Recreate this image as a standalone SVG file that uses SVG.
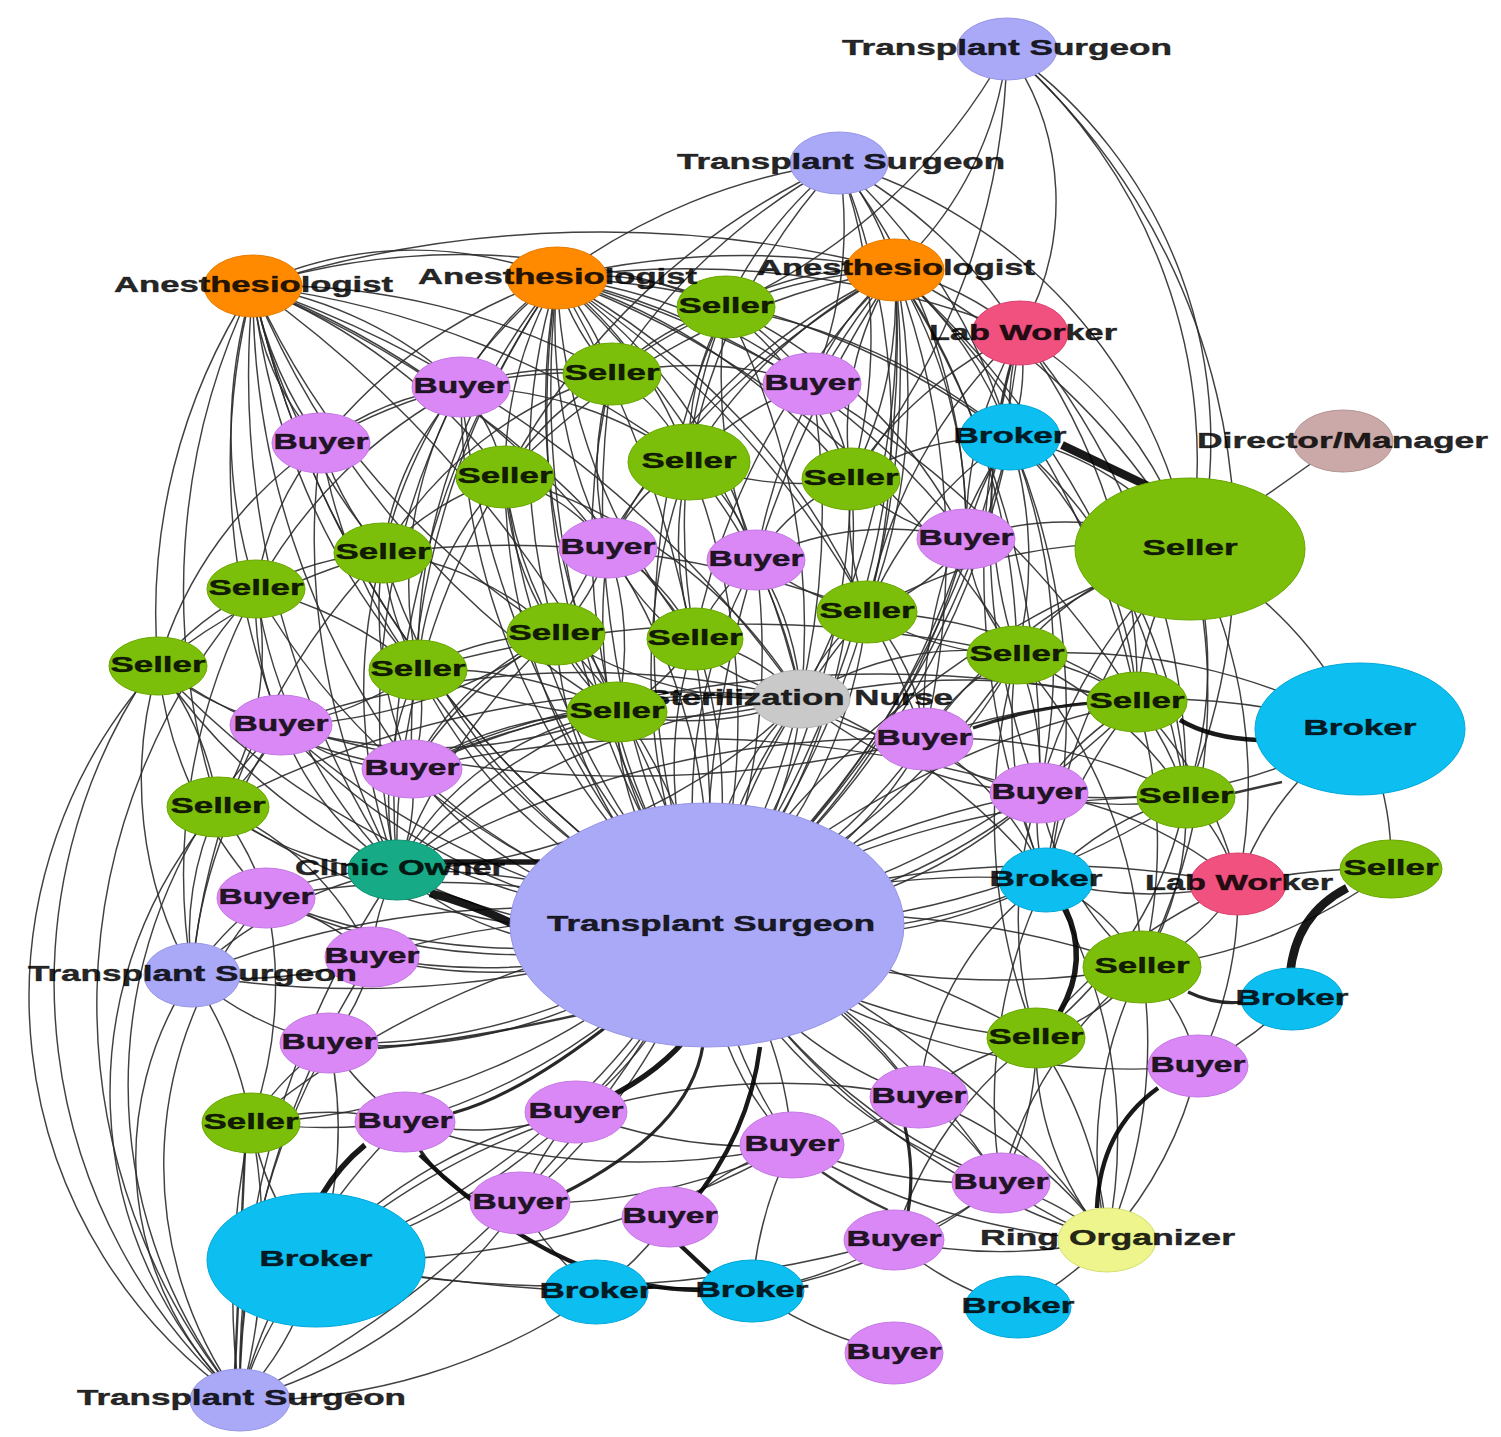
<svg xmlns="http://www.w3.org/2000/svg" width="1501" height="1437" viewBox="0 0 1501 1437">
<style>
.bg{fill:#fff}
#edges path{fill:none;stroke:#2b2b2b;stroke-width:1.45;stroke-opacity:.9}
#edges .w2{stroke:#222;stroke-width:2.4}
#edges .w3{stroke:#111;stroke-width:3.2}
#edges .w4{stroke:#000;stroke-width:4.4}
#edges .w5{stroke:#000;stroke-width:5.5}
#edges .w8{stroke:#000;stroke-width:8.5}
ellipse{stroke-width:1}
.ts{fill:#aaa9f7;stroke:#9896e6}
.an{fill:#ff8a00;stroke:#e87d00}
.se{fill:#7cbf0a;stroke:#69a800}
.bu{fill:#da88f6;stroke:#c579e4}
.br{fill:#0dbff0;stroke:#00a8da}
.lw{fill:#f1517f;stroke:#db426f}
.dm{fill:#caa9a8;stroke:#b59594}
.sn{fill:#c9c9c9;stroke:#b3b3b3}
.co{fill:#16aa86;stroke:#0d9473}
.ro{fill:#eef58c;stroke:#d6de6e}
text{font-family:"Liberation Sans",Arial,sans-serif;font-weight:700;font-size:22px;fill:#000;fill-opacity:.86;stroke:#000;stroke-opacity:.6;stroke-width:.6}
</style>
<rect class="bg" x="0" y="0" width="1501" height="1437"/>
<g id="edges">
<path d="M1007 49A540 540 0 0 1 1190 549"/>
<path d="M1007 49A480 480 0 0 1 1196 560"/>
<path d="M1007 49A660 660 0 0 1 1186 797"/>
<path d="M1007 49A260 260 0 0 1 1020 333"/>
<path d="M1007 49A350 350 0 0 1 895 270"/>
<path d="M1007 49A600 600 0 0 1 726 307"/>
<path d="M1007 49A700 700 0 0 1 851 479"/>
<path d="M839 163A400 400 0 0 0 726 307"/>
<path d="M839 163A600 600 0 0 0 557 278"/>
<path d="M839 163A600 600 0 0 0 612 374"/>
<path d="M839 163A600 600 0 0 0 689 462"/>
<path d="M839 163A400 400 0 0 1 812 384"/>
<path d="M839 163A500 500 0 0 1 851 479"/>
<path d="M839 163A300 300 0 0 1 895 270"/>
<path d="M839 163A500 500 0 0 1 1020 333"/>
<path d="M839 163A600 600 0 0 1 1010 437"/>
<path d="M839 163A500 500 0 0 1 1190 549"/>
<path d="M839 163A600 600 0 0 1 966 539"/>
<path d="M839 163A700 700 0 0 1 867 612"/>
<path d="M839 163A700 700 0 0 0 505 477"/>
<path d="M253 286A380 380 0 0 1 557 278"/>
<path d="M253 286A700 700 0 0 1 726 307"/>
<path d="M253 286A1150 1150 0 0 1 895 270"/>
<path d="M253 286A250 250 0 0 0 321 443"/>
<path d="M253 286A400 400 0 0 0 321 443"/>
<path d="M253 286A400 400 0 0 1 461 387"/>
<path d="M253 286A600 600 0 0 0 383 553"/>
<path d="M253 286A500 500 0 0 0 256 589"/>
<path d="M253 286A600 600 0 0 0 158 666"/>
<path d="M253 286A700 700 0 0 0 281 725"/>
<path d="M253 286A700 700 0 0 0 418 670"/>
<path d="M253 286A600 600 0 0 1 505 477"/>
<path d="M253 286A700 700 0 0 1 612 374"/>
<path d="M253 286A800 800 0 0 0 412 769"/>
<path d="M253 286A900 900 0 0 0 397 870"/>
<path d="M253 286A1000 1000 0 0 0 707 925"/>
<path d="M253 286A900 900 0 0 0 617 712"/>
<path d="M253 286A800 800 0 0 0 556 634"/>
<path d="M253 286A800 800 0 0 1 608 548"/>
<path d="M253 286A900 900 0 0 1 689 462"/>
<path d="M253 286A1000 1000 0 0 1 695 639"/>
<path d="M253 286A1100 1100 0 0 1 801 699"/>
<path d="M253 286A700 700 0 0 0 218 807"/>
<path d="M557 278A300 300 0 0 0 461 387"/>
<path d="M557 278A300 300 0 0 1 612 374"/>
<path d="M557 278A250 250 0 0 0 612 374"/>
<path d="M557 278A400 400 0 0 0 505 477"/>
<path d="M557 278A400 400 0 0 1 689 462"/>
<path d="M557 278A600 600 0 0 1 851 479"/>
<path d="M557 278A500 500 0 0 1 812 384"/>
<path d="M557 278A700 700 0 0 1 966 539"/>
<path d="M557 278A500 500 0 0 0 383 553"/>
<path d="M557 278A500 500 0 0 0 608 548"/>
<path d="M557 278A500 500 0 0 1 756 560"/>
<path d="M557 278A600 600 0 0 0 556 634"/>
<path d="M557 278A600 600 0 0 0 695 639"/>
<path d="M557 278A700 700 0 0 1 867 612"/>
<path d="M557 278A600 600 0 0 0 418 670"/>
<path d="M557 278A700 700 0 0 0 617 712"/>
<path d="M557 278A800 800 0 0 1 801 699"/>
<path d="M557 278A1000 1000 0 0 0 707 925"/>
<path d="M557 278A900 900 0 0 0 397 870"/>
<path d="M557 278A800 800 0 0 0 412 769"/>
<path d="M557 278A900 900 0 0 1 1017 655"/>
<path d="M557 278A900 900 0 0 1 924 739"/>
<path d="M557 278A1000 1000 0 0 1 1137 702"/>
<path d="M557 278A800 800 0 0 1 1010 437"/>
<path d="M557 278A900 900 0 0 1 1020 333"/>
<path d="M557 278A300 300 0 0 1 726 307"/>
<path d="M557 278A800 800 0 0 1 895 270"/>
<path d="M557 278A500 500 0 0 0 321 443"/>
<path d="M895 270A300 300 0 0 0 812 384"/>
<path d="M895 270A400 400 0 0 1 851 479"/>
<path d="M895 270A300 300 0 0 0 851 479"/>
<path d="M895 270A500 500 0 0 0 689 462"/>
<path d="M895 270A500 500 0 0 1 966 539"/>
<path d="M895 270A400 400 0 0 1 1010 437"/>
<path d="M895 270A300 300 0 0 1 1020 333"/>
<path d="M895 270A700 700 0 0 1 1190 549"/>
<path d="M895 270A600 600 0 0 1 867 612"/>
<path d="M895 270A700 700 0 0 1 1017 655"/>
<path d="M895 270A600 600 0 0 0 756 560"/>
<path d="M895 270A800 800 0 0 1 801 699"/>
<path d="M895 270A1000 1000 0 0 1 707 925"/>
<path d="M895 270A800 800 0 0 1 1137 702"/>
<path d="M895 270A800 800 0 0 1 924 739"/>
<path d="M895 270A700 700 0 0 0 695 639"/>
<path d="M895 270A900 900 0 0 1 1039 793"/>
<path d="M895 270A900 900 0 0 1 1186 797"/>
<path d="M895 270A300 300 0 0 0 726 307"/>
<path d="M895 270A500 500 0 0 0 612 374"/>
<path d="M895 270A600 600 0 0 0 608 548"/>
<path d="M895 270A800 800 0 0 0 556 634"/>
<path d="M895 270A700 700 0 0 0 505 477"/>
<path d="M726 307A300 300 0 0 1 812 384"/>
<path d="M726 307A300 300 0 0 0 689 462"/>
<path d="M726 307A300 300 0 0 0 612 374"/>
<path d="M726 307A400 400 0 0 1 851 479"/>
<path d="M726 307A500 500 0 0 1 966 539"/>
<path d="M726 307A700 700 0 0 1 801 699"/>
<path d="M726 307A600 600 0 0 0 695 639"/>
<path d="M726 307A600 600 0 0 1 1010 437"/>
<path d="M726 307A500 500 0 0 0 756 560"/>
<path d="M1020 333A300 300 0 0 0 1010 437"/>
<path d="M1020 333A200 200 0 0 1 1010 437"/>
<path d="M1020 333A400 400 0 0 1 1190 549"/>
<path d="M1020 333A600 600 0 0 1 1137 702"/>
<path d="M1020 333A500 500 0 0 0 1017 655"/>
<path d="M1020 333A400 400 0 0 0 966 539"/>
<path d="M1020 333A700 700 0 0 1 1186 797"/>
<path d="M1020 333A500 500 0 0 0 867 612"/>
<path d="M1020 333A700 700 0 0 0 1039 793"/>
<path d="M1020 333A800 800 0 0 0 1046 880"/>
<path d="M1020 333A400 400 0 0 0 851 479"/>
<path d="M1010 437A400 400 0 0 1 1017 655"/>
<path d="M1010 437A400 400 0 0 1 1137 702"/>
<path d="M1010 437A300 300 0 0 0 966 539"/>
<path d="M1010 437A300 300 0 0 0 851 479"/>
<path d="M1010 437A400 400 0 0 0 867 612"/>
<path d="M1010 437A500 500 0 0 0 924 739"/>
<path d="M1010 437A700 700 0 0 1 1046 880"/>
<path d="M1010 437A500 500 0 0 1 1186 797"/>
<path d="M1010 437A600 600 0 0 1 1039 793"/>
<path d="M1010 437A300 300 0 0 1 1190 549"/>
<path d="M1190 549L1343 441"/>
<path d="M1190 549A400 400 0 0 1 1360 729"/>
<path d="M1190 549A300 300 0 0 0 1137 702"/>
<path d="M1190 549A300 300 0 0 0 1017 655"/>
<path d="M1190 549A400 400 0 0 1 1186 797"/>
<path d="M1190 549A500 500 0 0 0 1039 793"/>
<path d="M1190 549A500 500 0 0 1 1238 884"/>
<path d="M1190 549A600 600 0 0 1 1142 967"/>
<path d="M1190 549A300 300 0 0 0 966 539"/>
<path d="M1190 549A500 500 0 0 0 867 612"/>
<path d="M1190 549A600 600 0 0 0 1046 880"/>
<path d="M1190 549A500 500 0 0 0 924 739"/>
<path d="M1190 549A900 900 0 0 0 707 925"/>
<path d="M1360 729A300 300 0 0 1 1391 869"/>
<path d="M1360 729A600 600 0 0 0 1017 655"/>
<path d="M1360 729A500 500 0 0 1 1039 793"/>
<path d="M1360 729A700 700 0 0 0 924 739"/>
<path d="M1360 729A300 300 0 0 0 1238 884"/>
<path d="M1137 702A300 300 0 0 0 1017 655"/>
<path d="M1137 702A300 300 0 0 1 1186 797"/>
<path d="M1137 702A300 300 0 0 0 1039 793"/>
<path d="M1137 702A400 400 0 0 0 1046 880"/>
<path d="M1137 702A700 700 0 0 0 801 699"/>
<path d="M1137 702A500 500 0 0 0 867 612"/>
<path d="M1137 702A500 500 0 0 1 1142 967"/>
<path d="M1137 702A900 900 0 0 0 707 925"/>
<path d="M1137 702A400 400 0 0 1 1238 884"/>
<path d="M1186 797A300 300 0 0 1 1039 793"/>
<path d="M1186 797A200 200 0 0 1 1238 884"/>
<path d="M1186 797A300 300 0 0 0 1046 880"/>
<path d="M1186 797A300 300 0 0 1 1142 967"/>
<path d="M1186 797A400 400 0 0 0 1017 655"/>
<path d="M1186 797A500 500 0 0 0 924 739"/>
<path d="M1186 797A900 900 0 0 0 707 925"/>
<path d="M1186 797A400 400 0 0 1 1036 1038"/>
<path d="M1391 869A600 600 0 0 0 1238 884"/>
<path d="M1391 869A500 500 0 0 1 1142 967"/>
<path d="M1238 884A400 400 0 0 0 1039 793"/>
<path d="M1238 884A200 200 0 0 1 1142 967"/>
<path d="M1238 884A400 400 0 0 1 1046 880"/>
<path d="M1238 884A400 400 0 0 1 1198 1066"/>
<path d="M1238 884A500 500 0 0 0 1036 1038"/>
<path d="M1238 884A1000 1000 0 0 0 707 925"/>
<path d="M1142 967A200 200 0 0 0 1046 880"/>
<path d="M1142 967A200 200 0 0 1 1036 1038"/>
<path d="M1142 967A200 200 0 0 1 1198 1066"/>
<path d="M1142 967A400 400 0 0 0 1107 1240"/>
<path d="M1142 967A500 500 0 0 1 1107 1240"/>
<path d="M1142 967A300 300 0 0 1 1039 793"/>
<path d="M1142 967A900 900 0 0 0 707 925"/>
<path d="M1142 967A400 400 0 0 0 1001 1183"/>
<path d="M1142 967A500 500 0 0 0 1017 655"/>
<path d="M1046 880A800 800 0 0 0 707 925"/>
<path d="M1046 880A200 200 0 0 1 1039 793"/>
<path d="M1046 880A300 300 0 0 0 924 739"/>
<path d="M1046 880A400 400 0 0 1 1017 655"/>
<path d="M1046 880A500 500 0 0 1 1107 1240"/>
<path d="M1046 880A500 500 0 0 0 1001 1183"/>
<path d="M1046 880A300 300 0 0 0 919 1097"/>
<path d="M1046 880A600 600 0 0 0 801 699"/>
<path d="M1036 1038A900 900 0 0 0 707 925"/>
<path d="M1036 1038A300 300 0 0 0 1107 1240"/>
<path d="M1036 1038A400 400 0 0 1 1107 1240"/>
<path d="M1036 1038A300 300 0 0 1 1001 1183"/>
<path d="M1036 1038A300 300 0 0 0 919 1097"/>
<path d="M1036 1038A400 400 0 0 1 1039 793"/>
<path d="M1036 1038A600 600 0 0 1 1017 655"/>
<path d="M1036 1038A400 400 0 0 0 894 1240"/>
<path d="M1198 1066A300 300 0 0 0 1292 999"/>
<path d="M1198 1066A400 400 0 0 1 1107 1240"/>
<path d="M1107 1240A300 300 0 0 0 1001 1183"/>
<path d="M1107 1240A400 400 0 0 1 1001 1183"/>
<path d="M1107 1240A500 500 0 0 1 894 1240"/>
<path d="M1107 1240A300 300 0 0 1 1018 1307"/>
<path d="M1107 1240A700 700 0 0 1 792 1145"/>
<path d="M1107 1240A400 400 0 0 0 919 1097"/>
<path d="M1107 1240A900 900 0 0 0 707 925"/>
<path d="M1001 1183A300 300 0 0 0 919 1097"/>
<path d="M1001 1183A300 300 0 0 1 894 1240"/>
<path d="M1001 1183A700 700 0 0 0 707 925"/>
<path d="M1001 1183A500 500 0 0 1 792 1145"/>
<path d="M1001 1183A500 500 0 0 1 752 1291"/>
<path d="M919 1097A500 500 0 0 0 707 925"/>
<path d="M919 1097A400 400 0 0 1 707 925"/>
<path d="M919 1097A300 300 0 0 1 792 1145"/>
<path d="M792 1145A400 400 0 0 0 707 925"/>
<path d="M792 1145A700 700 0 0 1 405 1122"/>
<path d="M792 1145A500 500 0 0 1 576 1112"/>
<path d="M792 1145A600 600 0 0 1 520 1203"/>
<path d="M792 1145A400 400 0 0 0 752 1291"/>
<path d="M792 1145A900 900 0 0 1 316 1260"/>
<path d="M792 1145A300 300 0 0 0 670 1217"/>
<path d="M894 1240A400 400 0 0 1 752 1291"/>
<path d="M894 1240A300 300 0 0 0 1018 1307"/>
<path d="M752 1291A400 400 0 0 0 894 1353"/>
<path d="M752 1291A800 800 0 0 0 596 1292"/>
<path d="M596 1292A300 300 0 0 0 670 1217"/>
<path d="M596 1292A2000 2000 0 0 1 316 1260"/>
<path d="M596 1292A300 300 0 0 1 520 1203"/>
<path d="M316 1260A1200 1200 0 0 0 894 1240"/>
<path d="M316 1260A500 500 0 0 1 576 1112"/>
<path d="M316 1260A300 300 0 0 1 251 1123"/>
<path d="M316 1260A400 400 0 0 0 329 1043"/>
<path d="M316 1260A700 700 0 0 1 919 1097"/>
<path d="M576 1112A300 300 0 0 1 405 1122"/>
<path d="M576 1112A300 300 0 0 0 520 1203"/>
<path d="M405 1122A300 300 0 0 0 251 1123"/>
<path d="M405 1122A600 600 0 0 1 251 1123"/>
<path d="M405 1122A300 300 0 0 1 329 1043"/>
<path d="M251 1123A300 300 0 0 1 329 1043"/>
<path d="M251 1123A900 900 0 0 1 707 925"/>
<path d="M251 1123A400 400 0 0 0 192 975"/>
<path d="M251 1123A400 400 0 0 0 266 898"/>
<path d="M329 1043A200 200 0 0 0 372 957"/>
<path d="M372 957A800 800 0 0 1 707 925"/>
<path d="M372 957A200 200 0 0 1 397 870"/>
<path d="M372 957A300 300 0 0 0 218 807"/>
<path d="M266 898A300 300 0 0 1 397 870"/>
<path d="M266 898A300 300 0 0 0 218 807"/>
<path d="M266 898A900 900 0 0 1 707 925"/>
<path d="M266 898A400 400 0 0 1 158 666"/>
<path d="M266 898A300 300 0 0 1 372 957"/>
<path d="M158 666A300 300 0 0 1 256 589"/>
<path d="M158 666A600 600 0 0 1 383 553"/>
<path d="M158 666A400 400 0 0 1 321 443"/>
<path d="M158 666A300 300 0 0 0 281 725"/>
<path d="M158 666A300 300 0 0 1 218 807"/>
<path d="M158 666A600 600 0 0 0 397 870"/>
<path d="M158 666A600 600 0 0 0 412 769"/>
<path d="M256 589A300 300 0 0 1 383 553"/>
<path d="M256 589A300 300 0 0 1 321 443"/>
<path d="M256 589A300 300 0 0 0 281 725"/>
<path d="M256 589A400 400 0 0 1 418 670"/>
<path d="M256 589A500 500 0 0 1 461 387"/>
<path d="M256 589A500 500 0 0 0 397 870"/>
<path d="M256 589A300 300 0 0 1 218 807"/>
<path d="M321 443A300 300 0 0 1 461 387"/>
<path d="M321 443A300 300 0 0 0 383 553"/>
<path d="M321 443A500 500 0 0 1 612 374"/>
<path d="M321 443A500 500 0 0 0 418 670"/>
<path d="M321 443A700 700 0 0 0 397 870"/>
<path d="M461 387A300 300 0 0 1 612 374"/>
<path d="M461 387A300 300 0 0 0 383 553"/>
<path d="M461 387A200 200 0 0 1 505 477"/>
<path d="M461 387A400 400 0 0 1 689 462"/>
<path d="M461 387A700 700 0 0 0 397 870"/>
<path d="M461 387A400 400 0 0 0 418 670"/>
<path d="M383 553A300 300 0 0 1 505 477"/>
<path d="M383 553A300 300 0 0 0 418 670"/>
<path d="M383 553A400 400 0 0 0 412 769"/>
<path d="M383 553A500 500 0 0 0 397 870"/>
<path d="M383 553A300 300 0 0 1 556 634"/>
<path d="M383 553A400 400 0 0 1 612 374"/>
<path d="M418 670A300 300 0 0 1 281 725"/>
<path d="M418 670A200 200 0 0 1 412 769"/>
<path d="M418 670A300 300 0 0 0 397 870"/>
<path d="M418 670A300 300 0 0 1 556 634"/>
<path d="M418 670A300 300 0 0 1 505 477"/>
<path d="M418 670A400 400 0 0 1 617 712"/>
<path d="M281 725A300 300 0 0 1 218 807"/>
<path d="M281 725A300 300 0 0 0 397 870"/>
<path d="M281 725A200 200 0 0 0 412 769"/>
<path d="M281 725A900 900 0 0 1 801 699"/>
<path d="M412 769A200 200 0 0 1 397 870"/>
<path d="M412 769A400 400 0 0 1 617 712"/>
<path d="M412 769A700 700 0 0 1 801 699"/>
<path d="M412 769A300 300 0 0 1 556 634"/>
<path d="M397 870A700 700 0 0 1 505 477"/>
<path d="M397 870A600 600 0 0 1 556 634"/>
<path d="M397 870A500 500 0 0 1 617 712"/>
<path d="M397 870A700 700 0 0 1 801 699"/>
<path d="M397 870A300 300 0 0 1 218 807"/>
<path d="M801 699A500 500 0 0 0 689 462"/>
<path d="M801 699A200 200 0 0 0 695 639"/>
<path d="M801 699A400 400 0 0 1 556 634"/>
<path d="M801 699A300 300 0 0 1 617 712"/>
<path d="M801 699A300 300 0 0 0 756 560"/>
<path d="M801 699A200 200 0 0 1 867 612"/>
<path d="M801 699A200 200 0 0 0 924 739"/>
<path d="M801 699A300 300 0 0 1 1017 655"/>
<path d="M801 699A400 400 0 0 0 1039 793"/>
<path d="M801 699A600 600 0 0 1 418 670"/>
<path d="M801 699A500 500 0 0 0 505 477"/>
<path d="M801 699A300 300 0 0 1 608 548"/>
<path d="M617 712A200 200 0 0 1 556 634"/>
<path d="M617 712A200 200 0 0 0 695 639"/>
<path d="M617 712A400 400 0 0 1 505 477"/>
<path d="M617 712A300 300 0 0 0 608 548"/>
<path d="M556 634A300 300 0 0 1 505 477"/>
<path d="M556 634A200 200 0 0 0 608 548"/>
<path d="M695 639A300 300 0 0 1 689 462"/>
<path d="M695 639A200 200 0 0 0 608 548"/>
<path d="M695 639A200 200 0 0 1 756 560"/>
<path d="M608 548A300 300 0 0 1 612 374"/>
<path d="M608 548A200 200 0 0 0 505 477"/>
<path d="M608 548A200 200 0 0 1 689 462"/>
<path d="M756 560A200 200 0 0 0 689 462"/>
<path d="M756 560A200 200 0 0 1 851 479"/>
<path d="M756 560A300 300 0 0 0 867 612"/>
<path d="M756 560A300 300 0 0 1 966 539"/>
<path d="M867 612A300 300 0 0 1 851 479"/>
<path d="M867 612A200 200 0 0 0 966 539"/>
<path d="M867 612A200 200 0 0 1 924 739"/>
<path d="M867 612A300 300 0 0 0 1017 655"/>
<path d="M924 739A200 200 0 0 1 1017 655"/>
<path d="M924 739A200 200 0 0 0 1039 793"/>
<path d="M966 539A200 200 0 0 1 851 479"/>
<path d="M966 539A200 200 0 0 0 1017 655"/>
<path d="M851 479A300 300 0 0 1 689 462"/>
<path d="M851 479A200 200 0 0 0 812 384"/>
<path d="M689 462A200 200 0 0 0 612 374"/>
<path d="M689 462A300 300 0 0 1 812 384"/>
<path d="M505 477A300 300 0 0 1 612 374"/>
<path d="M612 374A400 400 0 0 1 812 384"/>
<path d="M1039 793A300 300 0 0 0 1017 655"/>
<path d="M1039 793A900 900 0 0 0 707 925"/>
<path d="M707 925A1000 1000 0 0 1 253 286"/>
<path d="M707 925A900 900 0 0 1 557 278"/>
<path d="M707 925A900 900 0 0 0 895 270"/>
<path d="M707 925A700 700 0 0 1 461 387"/>
<path d="M707 925A700 700 0 0 1 612 374"/>
<path d="M707 925A600 600 0 0 1 505 477"/>
<path d="M707 925A600 600 0 0 1 689 462"/>
<path d="M707 925A600 600 0 0 0 851 479"/>
<path d="M707 925A500 500 0 0 1 608 548"/>
<path d="M707 925A500 500 0 0 1 756 560"/>
<path d="M707 925A600 600 0 0 1 383 553"/>
<path d="M707 925A400 400 0 0 1 556 634"/>
<path d="M707 925A400 400 0 0 1 695 639"/>
<path d="M707 925A500 500 0 0 0 867 612"/>
<path d="M707 925A600 600 0 0 0 1017 655"/>
<path d="M707 925A500 500 0 0 1 418 670"/>
<path d="M707 925A400 400 0 0 0 801 699"/>
<path d="M707 925A300 300 0 0 1 617 712"/>
<path d="M707 925A600 600 0 0 1 281 725"/>
<path d="M707 925A400 400 0 0 0 924 739"/>
<path d="M707 925A400 400 0 0 1 412 769"/>
<path d="M707 925A500 500 0 0 0 1046 880"/>
<path d="M707 925A600 600 0 0 1 266 898"/>
<path d="M707 925A500 500 0 0 1 372 957"/>
<path d="M707 925A500 500 0 0 1 329 1043"/>
<path d="M707 925A700 700 0 0 0 1198 1066"/>
<path d="M707 925A300 300 0 0 0 792 1145"/>
<path d="M707 925A500 500 0 0 0 1001 1183"/>
<path d="M707 925A600 600 0 0 1 316 1260"/>
<path d="M707 925A700 700 0 0 0 1107 1240"/>
<path d="M707 925A800 800 0 0 1 726 307"/>
<path d="M707 925A800 800 0 0 0 812 384"/>
<path d="M707 925A700 700 0 0 0 966 539"/>
<path d="M707 925A500 500 0 0 0 1039 793"/>
<path d="M707 925A300 300 0 0 1 397 870"/>
<path d="M707 925A800 800 0 0 0 1010 437"/>
<path d="M707 925A900 900 0 0 0 1020 333"/>
<path d="M707 925A700 700 0 0 1 218 807"/>
<path d="M707 925A800 800 0 0 1 158 666"/>
<path d="M707 925A700 700 0 0 1 256 589"/>
<path d="M707 925A700 700 0 0 0 689 462"/>
<path d="M707 925A600 600 0 0 0 608 548"/>
<path d="M707 925A500 500 0 0 0 556 634"/>
<path d="M707 925A500 500 0 0 0 695 639"/>
<path d="M707 925A300 300 0 0 1 801 699"/>
<path d="M707 925A700 700 0 0 1 867 612"/>
<path d="M707 925A700 700 0 0 0 756 560"/>
<path d="M397 870A500 500 0 0 0 707 925"/>
<path d="M397 870A900 900 0 0 1 707 925"/>
<path d="M412 769A600 600 0 0 0 707 925"/>
<path d="M281 725A800 800 0 0 0 707 925"/>
<path d="M418 670A700 700 0 0 0 707 925"/>
<path d="M801 699A500 500 0 0 0 707 925"/>
<path d="M801 699A600 600 0 0 1 397 870"/>
<path d="M801 699A800 800 0 0 0 412 769"/>
<path d="M924 739A600 600 0 0 1 707 925"/>
<path d="M1017 655A800 800 0 0 1 707 925"/>
<path d="M1039 793A600 600 0 0 1 707 925"/>
<path d="M1046 880A600 600 0 0 1 707 925"/>
<path d="M617 712A300 300 0 0 0 397 870"/>
<path d="M617 712A500 500 0 0 1 281 725"/>
<path d="M556 634A400 400 0 0 0 412 769"/>
<path d="M556 634A500 500 0 0 1 281 725"/>
<path d="M418 670A1200 1200 0 0 1 1017 655"/>
<path d="M281 725A1200 1200 0 0 0 924 739"/>
<path d="M412 769A1200 1200 0 0 1 1039 793"/>
<path d="M383 553A1000 1000 0 0 1 867 612"/>
<path d="M397 870A1000 1000 0 0 1 924 739"/>
<path d="M412 769A1200 1200 0 0 1 1137 702"/>
<path d="M218 807A1000 1000 0 0 1 801 699"/>
<path d="M557 278A1100 1100 0 0 1 707 925"/>
<path d="M895 270A1100 1100 0 0 0 707 925"/>
<path d="M253 286A1200 1200 0 0 1 707 925"/>
<path d="M461 387A900 900 0 0 0 707 925"/>
<path d="M612 374A900 900 0 0 0 707 925"/>
<path d="M505 477A800 800 0 0 0 707 925"/>
<path d="M851 479A800 800 0 0 1 707 925"/>
<path d="M966 539A800 800 0 0 1 707 925"/>
<path d="M1010 437A900 900 0 0 1 707 925"/>
<path d="M919 1097A600 600 0 0 0 707 925"/>
<path d="M792 1145A500 500 0 0 1 707 925"/>
<path d="M1001 1183A600 600 0 0 1 707 925"/>
<path d="M1036 1038A700 700 0 0 1 707 925"/>
<path d="M1142 967A800 800 0 0 1 707 925"/>
<path d="M1186 797A800 800 0 0 1 707 925"/>
<path d="M1137 702A800 800 0 0 1 707 925"/>
<path d="M576 1112A400 400 0 0 0 707 925"/>
<path d="M520 1203A600 600 0 0 0 707 925"/>
<path d="M405 1122A600 600 0 0 0 707 925"/>
<path d="M329 1043A600 600 0 0 0 707 925"/>
<path d="M251 1123A700 700 0 0 0 707 925"/>
<path d="M316 1260A700 700 0 0 0 707 925"/>
<path d="M192 975A900 900 0 0 1 707 925"/>
<path d="M372 957A600 600 0 0 0 707 925"/>
<path d="M266 898A700 700 0 0 0 707 925"/>
<path d="M240 1400A490 490 0 0 1 158 666"/>
<path d="M240 1400A560 560 0 0 1 150 670"/>
<path d="M240 1400A430 430 0 0 1 218 807"/>
<path d="M240 1400A330 330 0 0 1 192 975"/>
<path d="M240 1400A400 400 0 0 1 266 898"/>
<path d="M240 1400A620 620 0 0 1 256 589"/>
<path d="M240 1400A500 500 0 0 1 281 725"/>
<path d="M240 1400A800 800 0 0 1 251 1123"/>
<path d="M240 1400A600 600 0 0 0 251 1123"/>
<path d="M240 1400A700 700 0 0 1 329 1043"/>
<path d="M240 1400A800 800 0 0 1 372 957"/>
<path d="M240 1400A400 400 0 0 1 316 1260"/>
<path d="M240 1400A300 300 0 0 0 316 1260"/>
<path d="M240 1400A600 600 0 0 1 405 1122"/>
<path d="M240 1400A500 500 0 0 0 520 1203"/>
<path d="M240 1400A600 600 0 0 0 596 1292"/>
<path d="M240 1400A900 900 0 0 1 397 870"/>
<path d="M240 1400A1000 1000 0 0 0 707 925"/>
<path d="M192 975A400 400 0 0 1 158 666"/>
<path d="M192 975A300 300 0 0 1 218 807"/>
<path d="M192 975A300 300 0 0 1 266 898"/>
<path d="M192 975A400 400 0 0 0 372 957"/>
<path d="M192 975A400 400 0 0 1 397 870"/>
<path d="M192 975A500 500 0 0 1 281 725"/>
<path d="M192 975A1000 1000 0 0 0 707 925"/>
<path d="M192 975A300 300 0 0 0 329 1043"/>
<path d="M192 975A600 600 0 0 1 256 589"/>
<path d="M192 975A700 700 0 0 1 383 553"/>
<path class="w8" d="M1062 445L1150 487"/>
<path class="w8" d="M1347 888Q1295 915 1290 975"/>
<path class="w8" d="M430 893Q470 903 515 925"/>
<path class="w5" d="M440 862L540 862"/>
<path class="w5" d="M365 1145Q340 1165 322 1195"/>
<path class="w5" d="M685 1040Q650 1080 592 1105"/>
<path class="w4" d="M760 1047A300 300 0 0 1 690 1205"/>
<path class="w3" d="M703 1045Q690 1130 560 1195"/>
<path class="w4" d="M420 1155Q560 1290 700 1290"/>
<path class="w4" d="M680 1245L712 1275"/>
<path class="w5" d="M1065 908Q1090 960 1060 1012"/>
<path class="w4" d="M1180 720Q1210 738 1258 740"/>
<path class="w3" d="M973 728Q1030 708 1092 703"/>
<path class="w2" d="M1234 793L1282 782"/>
<path class="w4" d="M1158 1088Q1100 1130 1097 1208"/>
<path class="w3" d="M1188 992Q1215 1005 1242 1002"/>
<path class="w3" d="M905 1127Q915 1170 908 1212"/>
<path class="w2" d="M822 1172Q855 1195 888 1210"/>
<path class="w2" d="M378 1048Q470 1040 600 1010"/>
<path class="w3" d="M453 1113Q520 1095 615 1020"/>
<path class="w3" d="M420 1150Q440 1180 475 1200"/>
<path class="w2" d="M235 1370L245 1150"/>
</g>
<g id="n-ts3"><ellipse class="ts" cx="707" cy="925" rx="197" ry="122"/><text x="547" y="931" textLength="328" lengthAdjust="spacingAndGlyphs">Transplant Surgeon</text></g>
<g id="n-s1"><ellipse class="se" cx="726" cy="307" rx="49" ry="31"/><text x="678.5" y="313" textLength="95" lengthAdjust="spacingAndGlyphs">Seller</text></g>
<g id="n-b1"><ellipse class="bu" cx="461" cy="387" rx="49" ry="30"/><text x="413.5" y="393" textLength="95" lengthAdjust="spacingAndGlyphs">Buyer</text></g>
<g id="n-s2"><ellipse class="se" cx="612" cy="374" rx="49" ry="31"/><text x="564.5" y="380" textLength="95" lengthAdjust="spacingAndGlyphs">Seller</text></g>
<g id="n-b2"><ellipse class="bu" cx="812" cy="384" rx="49" ry="31"/><text x="764.5" y="390" textLength="95" lengthAdjust="spacingAndGlyphs">Buyer</text></g>
<g id="n-b3"><ellipse class="bu" cx="321" cy="443" rx="49" ry="30"/><text x="273.5" y="449" textLength="95" lengthAdjust="spacingAndGlyphs">Buyer</text></g>
<g id="n-br1"><ellipse class="br" cx="1010" cy="437" rx="50" ry="33"/><text x="953.5" y="443" textLength="113" lengthAdjust="spacingAndGlyphs">Broker</text></g>
<g id="n-s3"><ellipse class="se" cx="505" cy="477" rx="49" ry="31"/><text x="457.5" y="483" textLength="95" lengthAdjust="spacingAndGlyphs">Seller</text></g>
<g id="n-s4"><ellipse class="se" cx="689" cy="462" rx="61" ry="38"/><text x="641.5" y="468" textLength="95" lengthAdjust="spacingAndGlyphs">Seller</text></g>
<g id="n-s5"><ellipse class="se" cx="851" cy="479" rx="49" ry="31"/><text x="803.5" y="485" textLength="95" lengthAdjust="spacingAndGlyphs">Seller</text></g>
<g id="n-s6"><ellipse class="se" cx="1190" cy="549" rx="115" ry="71"/><text x="1142.5" y="555" textLength="95" lengthAdjust="spacingAndGlyphs">Seller</text></g>
<g id="n-b4"><ellipse class="bu" cx="966" cy="539" rx="49" ry="30"/><text x="918.5" y="545" textLength="95" lengthAdjust="spacingAndGlyphs">Buyer</text></g>
<g id="n-b5"><ellipse class="bu" cx="608" cy="548" rx="49" ry="30"/><text x="560.5" y="554" textLength="95" lengthAdjust="spacingAndGlyphs">Buyer</text></g>
<g id="n-b6"><ellipse class="bu" cx="756" cy="560" rx="49" ry="30"/><text x="708.5" y="566" textLength="95" lengthAdjust="spacingAndGlyphs">Buyer</text></g>
<g id="n-s7"><ellipse class="se" cx="383" cy="553" rx="49" ry="30"/><text x="335.5" y="559" textLength="95" lengthAdjust="spacingAndGlyphs">Seller</text></g>
<g id="n-s8"><ellipse class="se" cx="256" cy="589" rx="49" ry="29"/><text x="208.5" y="595" textLength="95" lengthAdjust="spacingAndGlyphs">Seller</text></g>
<g id="n-s9"><ellipse class="se" cx="556" cy="634" rx="49" ry="31"/><text x="508.5" y="640" textLength="95" lengthAdjust="spacingAndGlyphs">Seller</text></g>
<g id="n-s10"><ellipse class="se" cx="695" cy="639" rx="48" ry="31"/><text x="647.5" y="645" textLength="95" lengthAdjust="spacingAndGlyphs">Seller</text></g>
<g id="n-s11"><ellipse class="se" cx="867" cy="612" rx="50" ry="31"/><text x="819.5" y="618" textLength="95" lengthAdjust="spacingAndGlyphs">Seller</text></g>
<g id="n-s12"><ellipse class="se" cx="1017" cy="655" rx="50" ry="29"/><text x="969.5" y="661" textLength="95" lengthAdjust="spacingAndGlyphs">Seller</text></g>
<g id="n-s13"><ellipse class="se" cx="158" cy="666" rx="49" ry="29"/><text x="110.5" y="672" textLength="95" lengthAdjust="spacingAndGlyphs">Seller</text></g>
<g id="n-s14"><ellipse class="se" cx="418" cy="670" rx="49" ry="30"/><text x="370.5" y="676" textLength="95" lengthAdjust="spacingAndGlyphs">Seller</text></g>
<g id="n-sn"><ellipse class="sn" cx="801" cy="699" rx="49" ry="29"/><text x="647" y="705" textLength="306" lengthAdjust="spacingAndGlyphs">Sterilization Nurse</text></g>
<g id="n-s15"><ellipse class="se" cx="617" cy="712" rx="50" ry="30"/><text x="569.5" y="718" textLength="95" lengthAdjust="spacingAndGlyphs">Seller</text></g>
<g id="n-b7"><ellipse class="bu" cx="281" cy="725" rx="51" ry="30"/><text x="233.5" y="731" textLength="95" lengthAdjust="spacingAndGlyphs">Buyer</text></g>
<g id="n-b8"><ellipse class="bu" cx="924" cy="739" rx="49" ry="31"/><text x="876.5" y="745" textLength="95" lengthAdjust="spacingAndGlyphs">Buyer</text></g>
<g id="n-s16"><ellipse class="se" cx="1137" cy="702" rx="50" ry="30"/><text x="1089.5" y="708" textLength="95" lengthAdjust="spacingAndGlyphs">Seller</text></g>
<g id="n-br2"><ellipse class="br" cx="1360" cy="729" rx="105" ry="66"/><text x="1303.5" y="735" textLength="113" lengthAdjust="spacingAndGlyphs">Broker</text></g>
<g id="n-b9"><ellipse class="bu" cx="412" cy="769" rx="50" ry="29"/><text x="364.5" y="775" textLength="95" lengthAdjust="spacingAndGlyphs">Buyer</text></g>
<g id="n-b10"><ellipse class="bu" cx="1039" cy="793" rx="49" ry="30"/><text x="991.5" y="799" textLength="95" lengthAdjust="spacingAndGlyphs">Buyer</text></g>
<g id="n-s17"><ellipse class="se" cx="1186" cy="797" rx="49" ry="31"/><text x="1138.5" y="803" textLength="95" lengthAdjust="spacingAndGlyphs">Seller</text></g>
<g id="n-s18"><ellipse class="se" cx="218" cy="807" rx="51" ry="30"/><text x="170.5" y="813" textLength="95" lengthAdjust="spacingAndGlyphs">Seller</text></g>
<g id="n-br3"><ellipse class="br" cx="1046" cy="880" rx="47" ry="32"/><text x="989.5" y="886" textLength="113" lengthAdjust="spacingAndGlyphs">Broker</text></g>
<g id="n-s19"><ellipse class="se" cx="1391" cy="869" rx="51" ry="29"/><text x="1343.5" y="875" textLength="95" lengthAdjust="spacingAndGlyphs">Seller</text></g>
<g id="n-lw2"><ellipse class="lw" cx="1238" cy="884" rx="48" ry="31"/><text x="1145" y="890" textLength="188" lengthAdjust="spacingAndGlyphs">Lab Worker</text></g>
<g id="n-b11"><ellipse class="bu" cx="266" cy="898" rx="49" ry="30"/><text x="218.5" y="904" textLength="95" lengthAdjust="spacingAndGlyphs">Buyer</text></g>
<g id="n-b12"><ellipse class="bu" cx="372" cy="957" rx="47" ry="30"/><text x="324.5" y="963" textLength="95" lengthAdjust="spacingAndGlyphs">Buyer</text></g>
<g id="n-co"><ellipse class="co" cx="397" cy="870" rx="49" ry="30"/><text x="295" y="875" textLength="210" lengthAdjust="spacingAndGlyphs">Clinic Owner</text></g>
<g id="n-ts4"><ellipse class="ts" cx="192" cy="975" rx="48" ry="32"/><text x="28" y="981" textLength="329" lengthAdjust="spacingAndGlyphs">Transplant Surgeon</text></g>
<g id="n-s20"><ellipse class="se" cx="1142" cy="967" rx="59" ry="36"/><text x="1094.5" y="973" textLength="95" lengthAdjust="spacingAndGlyphs">Seller</text></g>
<g id="n-br4"><ellipse class="br" cx="1292" cy="999" rx="51" ry="31"/><text x="1235.5" y="1005" textLength="113" lengthAdjust="spacingAndGlyphs">Broker</text></g>
<g id="n-s21"><ellipse class="se" cx="1036" cy="1038" rx="49" ry="30"/><text x="988.5" y="1044" textLength="95" lengthAdjust="spacingAndGlyphs">Seller</text></g>
<g id="n-b13"><ellipse class="bu" cx="329" cy="1043" rx="49" ry="30"/><text x="281.5" y="1049" textLength="95" lengthAdjust="spacingAndGlyphs">Buyer</text></g>
<g id="n-b14"><ellipse class="bu" cx="1198" cy="1066" rx="50" ry="31"/><text x="1150.5" y="1072" textLength="95" lengthAdjust="spacingAndGlyphs">Buyer</text></g>
<g id="n-s22"><ellipse class="se" cx="251" cy="1123" rx="49" ry="30"/><text x="203.5" y="1129" textLength="95" lengthAdjust="spacingAndGlyphs">Seller</text></g>
<g id="n-b15"><ellipse class="bu" cx="405" cy="1122" rx="50" ry="30"/><text x="357.5" y="1128" textLength="95" lengthAdjust="spacingAndGlyphs">Buyer</text></g>
<g id="n-b16"><ellipse class="bu" cx="576" cy="1112" rx="51" ry="31"/><text x="528.5" y="1118" textLength="95" lengthAdjust="spacingAndGlyphs">Buyer</text></g>
<g id="n-b17"><ellipse class="bu" cx="919" cy="1097" rx="49" ry="31"/><text x="871.5" y="1103" textLength="95" lengthAdjust="spacingAndGlyphs">Buyer</text></g>
<g id="n-b18"><ellipse class="bu" cx="792" cy="1145" rx="52" ry="33"/><text x="744.5" y="1151" textLength="95" lengthAdjust="spacingAndGlyphs">Buyer</text></g>
<g id="n-b19"><ellipse class="bu" cx="1001" cy="1183" rx="49" ry="30"/><text x="953.5" y="1189" textLength="95" lengthAdjust="spacingAndGlyphs">Buyer</text></g>
<g id="n-b20"><ellipse class="bu" cx="520" cy="1203" rx="50" ry="31"/><text x="472.5" y="1209" textLength="95" lengthAdjust="spacingAndGlyphs">Buyer</text></g>
<g id="n-b21"><ellipse class="bu" cx="670" cy="1217" rx="48" ry="30"/><text x="622.5" y="1223" textLength="95" lengthAdjust="spacingAndGlyphs">Buyer</text></g>
<g id="n-b22"><ellipse class="bu" cx="894" cy="1240" rx="50" ry="30"/><text x="846.5" y="1246" textLength="95" lengthAdjust="spacingAndGlyphs">Buyer</text></g>
<g id="n-ro"><ellipse class="ro" cx="1107" cy="1240" rx="49" ry="32"/><text x="980" y="1245" textLength="255" lengthAdjust="spacingAndGlyphs">Ring Organizer</text></g>
<g id="n-br5"><ellipse class="br" cx="316" cy="1260" rx="109" ry="67"/><text x="259.5" y="1266" textLength="113" lengthAdjust="spacingAndGlyphs">Broker</text></g>
<g id="n-br6"><ellipse class="br" cx="596" cy="1292" rx="52" ry="32"/><text x="539.5" y="1298" textLength="113" lengthAdjust="spacingAndGlyphs">Broker</text></g>
<g id="n-br7"><ellipse class="br" cx="752" cy="1291" rx="52" ry="31"/><text x="695.5" y="1297" textLength="113" lengthAdjust="spacingAndGlyphs">Broker</text></g>
<g id="n-br8"><ellipse class="br" cx="1018" cy="1307" rx="53" ry="31"/><text x="961.5" y="1313" textLength="113" lengthAdjust="spacingAndGlyphs">Broker</text></g>
<g id="n-b23"><ellipse class="bu" cx="894" cy="1353" rx="49" ry="31"/><text x="846.5" y="1359" textLength="95" lengthAdjust="spacingAndGlyphs">Buyer</text></g>
<g id="n-ts5"><ellipse class="ts" cx="240" cy="1400" rx="50" ry="31"/><text x="77" y="1405" textLength="329" lengthAdjust="spacingAndGlyphs">Transplant Surgeon</text></g>
<g id="n-dm"><ellipse class="dm" cx="1343" cy="441" rx="50" ry="31"/><text x="1197" y="448" textLength="291" lengthAdjust="spacingAndGlyphs">Director/Manager</text></g>
<g id="n-lw1"><ellipse class="lw" cx="1020" cy="333" rx="48" ry="32"/><text x="929" y="340" textLength="188" lengthAdjust="spacingAndGlyphs">Lab Worker</text></g>
<g id="n-ts1"><ellipse class="ts" cx="1007" cy="49" rx="50" ry="31"/><text x="842" y="55" textLength="330" lengthAdjust="spacingAndGlyphs">Transplant Surgeon</text></g>
<g id="n-ts2"><ellipse class="ts" cx="839" cy="163" rx="49" ry="31"/><text x="677" y="169" textLength="328" lengthAdjust="spacingAndGlyphs">Transplant Surgeon</text></g>
<g id="n-an1"><ellipse class="an" cx="253" cy="286" rx="49" ry="31"/><text x="114" y="292" textLength="279" lengthAdjust="spacingAndGlyphs">Anesthesiologist</text></g>
<g id="n-an3"><ellipse class="an" cx="895" cy="270" rx="49" ry="31"/><text x="757" y="275" textLength="278" lengthAdjust="spacingAndGlyphs">Anesthesiologist</text></g>
<g id="n-an2"><ellipse class="an" cx="557" cy="278" rx="50" ry="31"/><text x="418" y="284" textLength="279" lengthAdjust="spacingAndGlyphs">Anesthesiologist</text></g>
</svg>
